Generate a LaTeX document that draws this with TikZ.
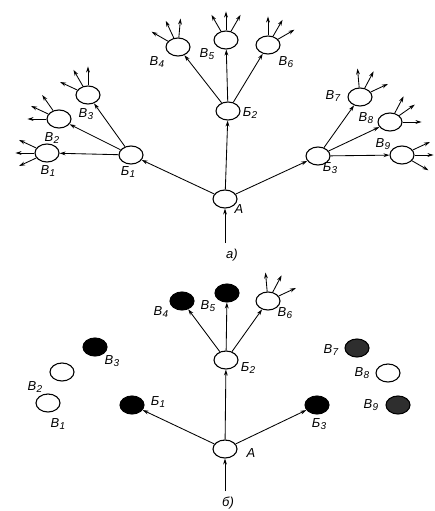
\documentclass[tikz,border=0pt]{standalone}
\usepackage{fontspec}
\setmainfont{Liberation Sans}
\usetikzlibrary{arrows.meta,shapes.geometric}
\tikzset{
  st/.style={ellipse,draw,line width=1.1pt,minimum width=24pt,minimum height=18pt,inner sep=0pt},
  full/.style={st,fill=black},
  grain/.style={st,fill=black!82},
  arr/.style={-{Stealth[length=6pt,width=3.8pt]},line width=0.85pt},
  lab/.style={font=\itshape\fontsize{13}{13}\selectfont,inner sep=0pt},
}
\newcommand\ix[2]{#1\kern0.3pt\raisebox{-0.35ex}{\fontsize{10}{10}\selectfont #2}}
\begin{document}
\begin{tikzpicture}[x=1pt,y=-1pt]
\useasboundingbox (0,0) rectangle (434,511);

% ---------- upper tree (a) ----------
\node[st] (A) at (225,199) {};
\node[st] (B1) at (131,155) {};
\node[st] (B2) at (228,111) {};
\node[st] (B3) at (318,156) {};
\node[st] (V1) at (47,153) {};
\node[st] (V2) at (59,119) {};
\node[st] (V3) at (88,95) {};
\node[st] (V4) at (178,47) {};
\node[st] (V5) at (226,40) {};
\node[st] (V6) at (268,45) {};
\node[st] (V7) at (360,97) {};
\node[st] (V8) at (390,122) {};
\node[st] (V9) at (402,155) {};
\coordinate (inA) at (225,243);

\draw[arr] (inA) -- (A);
\foreach \p/\c in {A/B1,A/B2,A/B3,B1/V1,B1/V2,B1/V3,B2/V4,B2/V5,B2/V6,B3/V7,B3/V8,B3/V9}
  \draw[arr] (\p) -- (\c);
\foreach \n/\angs in {V1/{155,180,205},V2/{125,155,180},V3/{90,120,155},
    V4/{150,115,85},V5/{120,90,60},V6/{90,60,30},V7/{95,62,25},
    V8/{62,35,0},V9/{25,0,-30}}
  \foreach \a in \angs \draw[arr] (\n.\a) -- ++(\a:19pt);

\node[lab] (lA) at (239,209) {А};
\node[lab] (lB1) at (128,172) {\ix{Б}{1}};
\node[lab] (lB2) at (250,113) {\ix{Б}{2}};
\node[lab] (lB3) at (330,168) {\ix{Б}{3}};
\node[lab] (lV1) at (48,171) {\ix{В}{1}};
\node[lab] (lV2) at (52,138) {\ix{В}{2}};
\node[lab] (lV3) at (86,114) {\ix{В}{3}};
\node[lab] (lV4) at (157,62) {\ix{В}{4}};
\node[lab] (lV5) at (207,54) {\ix{В}{5}};
\node[lab] (lV6) at (286,62) {\ix{В}{6}};
\node[lab] (lV7) at (333,96) {\ix{В}{7}};
\node[lab] (lV8) at (366,118) {\ix{В}{8}};
\node[lab] (lV9) at (383,144) {\ix{В}{9}};
\node[lab] (capa) at (232,255) {а)};

% ---------- lower tree (b) ----------
\node[st] (a) at (225,449) {};
\node[full] (b1) at (132,405) {};
\node[st] (b2) at (226,360) {};
\node[full] (b3) at (317,405) {};
\node[st] (v1) at (48,403) {};
\node[st] (v2) at (62,372) {};
\node[full] (v3) at (95,347) {};
\node[full] (v4) at (182,301) {};
\node[full] (v5) at (227,293) {};
\node[st] (v6) at (268,301) {};
\node[grain] (v7) at (357,348) {};
\node[st] (v8) at (388,373) {};
\node[grain] (v9) at (398,405) {};
\coordinate (ina) at (225,491);

\draw[arr] (ina) -- (a);
\foreach \p/\c in {a/b1,a/b2,a/b3,b2/v4,b2/v5,b2/v6}
  \draw[arr] (\p) -- (\c);
\foreach \a in {95,62,25} \draw[arr] (v6.\a) -- ++(\a:19pt);

\node[lab] (la) at (251,453) {А};
\node[lab] (lb1) at (158,402) {\ix{Б}{1}};
\node[lab] (lb2) at (248,368) {\ix{Б}{2}};
\node[lab] (lb3) at (319,424) {\ix{Б}{3}};
\node[lab] (lv1) at (58,424) {\ix{В}{1}};
\node[lab] (lv2) at (35,387) {\ix{В}{2}};
\node[lab] (lv3) at (112,361) {\ix{В}{3}};
\node[lab] (lv4) at (161,312) {\ix{В}{4}};
\node[lab] (lv5) at (208,306) {\ix{В}{5}};
\node[lab] (lv6) at (285,313) {\ix{В}{6}};
\node[lab] (lv7) at (331,350) {\ix{В}{7}};
\node[lab] (lv8) at (362,373) {\ix{В}{8}};
\node[lab] (lv9) at (371,405) {\ix{В}{9}};
\node[lab] (capb) at (228,503) {б)};
\end{tikzpicture}
\end{document}
